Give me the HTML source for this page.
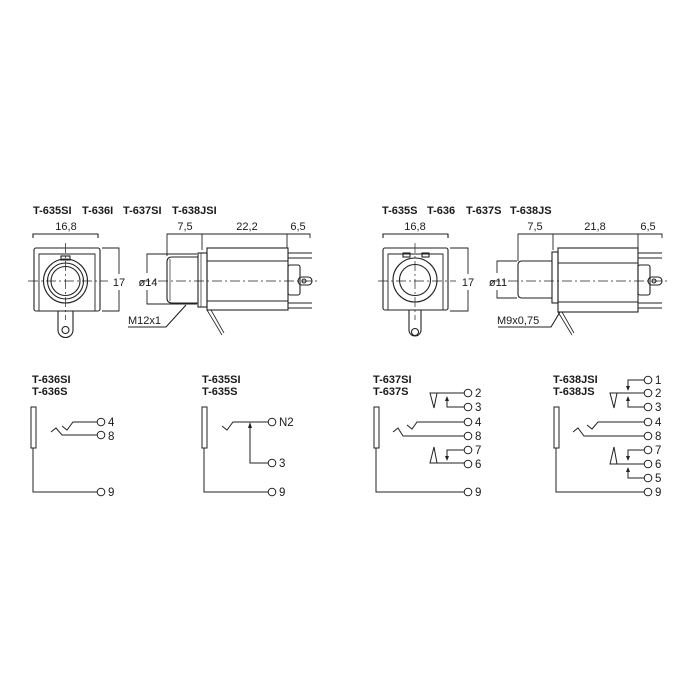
<!DOCTYPE html>
<html><head><meta charset="utf-8"><style>
html,body{margin:0;padding:0;background:#fff}
svg{display:block}
text{font-family:"Liberation Sans",sans-serif;fill:#1a1a1a}
.t{font-weight:bold;font-size:11px}
.d{font-size:11px}
.n{font-size:11.5px}
</style></head><body>
<svg width="700" height="700" viewBox="0 0 700 700" xmlns="http://www.w3.org/2000/svg">
<g fill="none" stroke="#222" stroke-width="1.1">
<path d="M33 238V234H98V238"/>
<rect x="34" y="248" width="66" height="63" rx="2"/>
<path d="M39 311V254H95V311" stroke-width="0.9"/>
<path d="M58 311V330a7 7 0 0 0 15 0V311"/>
<circle cx="65.5" cy="330" r="3.5"/>
<circle cx="65.5" cy="281" r="22"/>
<circle cx="65.5" cy="281" r="18"/>
<circle cx="65.5" cy="281" r="14.5"/>
<rect x="61" y="256" width="9" height="4"/>
<path d="M28 281H108M65.5 243V320" stroke-width="0.7" stroke-dasharray="10 3 2 3"/>
<path d="M102 248H119V274M119 290V311H102" stroke-width="0.9"/>
<path d="M167 238V234H310V238M202 234V250M287 234V248M167 234V256" stroke-width="0.9"/>
<path d="M197 254H147V273M147 290V304H197" stroke-width="0.9"/>
<path d="M198 257H172Q167 257 167 262V298Q167 303 172 303H198"/>
<path d="M170 259V301" stroke-width="0.7"/>
<rect x="198" y="253" width="9" height="54"/>
<path d="M201 253V307" stroke-width="0.7"/>
<rect x="207" y="248" width="81" height="62"/>
<path d="M207 261H288M207 301H288" stroke-width="0.9"/>
<path d="M288 253H312M288 258H312M288 303H312M288 308H312"/>
<rect x="288" y="265" width="12" height="30" rx="2"/>
<rect x="298" y="277" width="14" height="8" rx="4"/>
<circle cx="304" cy="281" r="2"/>
<path d="M140 281H320" stroke-width="0.7" stroke-dasharray="10 3 2 3"/>
<path d="M128 327H166L186 305"/>
<path d="M207 310L222 335M211 310L224 333" stroke-width="0.8"/>
<path d="M383 238V234H448V238"/>
<rect x="383" y="248" width="65" height="62" rx="2"/>
<path d="M388 310V254H443V310" stroke-width="0.9"/>
<rect x="403" y="253" width="7" height="4"/>
<rect x="422" y="253" width="7" height="4"/>
<path d="M409 310V330a6 6 0 0 0 12 0V310"/>
<circle cx="415" cy="332" r="3.5"/>
<circle cx="415" cy="280" r="22"/>
<circle cx="415" cy="280" r="15.5"/>
<path d="M378 281H456M415 243V320" stroke-width="0.7" stroke-dasharray="10 3 2 3"/>
<path d="M450 248H468V274M468 290V311H450" stroke-width="0.9"/>
<path d="M518 238V234H662V238M553 234V250M638 234V248M518 234V261" stroke-width="0.9"/>
<path d="M517 261H497V273M497 290V298H517" stroke-width="0.9"/>
<path d="M552 261H522Q518 261 518 265V294Q518 298 522 298H552"/>
<rect x="552" y="252" width="6" height="51"/>
<rect x="558" y="248" width="80" height="64"/>
<path d="M558 263H638M558 302H638" stroke-width="0.9"/>
<path d="M638 253H662M638 258H662M638 303H662M638 308H662"/>
<rect x="638" y="265" width="12" height="30" rx="2"/>
<rect x="648" y="277" width="14" height="8" rx="4"/>
<circle cx="654" cy="281" r="2"/>
<path d="M490 281H670" stroke-width="0.7" stroke-dasharray="10 3 2 3"/>
<path d="M498 327H551L560 312"/>
<path d="M558 312L572 335M562 312L574 333" stroke-width="0.8"/>

<g stroke-width="1">
<rect x="31" y="407" width="5" height="41"/>
<path d="M33 448V492H97"/><circle cx="101" cy="492" r="3.8"/>
<path d="M62 426L67 430L73 422H97"/><circle cx="101" cy="422" r="3.8"/>
<path d="M51 432L56 428L62 435H97"/><circle cx="101" cy="435" r="3.8"/>
<rect x="202" y="407" width="5" height="41"/>
<path d="M204 448V492H268"/><circle cx="272" cy="492" r="3.8"/>
<path d="M222 426L227 430L233 422H268"/><circle cx="272" cy="422" r="3.8"/>
<path d="M250 426V463H268"/><circle cx="272" cy="463" r="3.8"/>
<rect x="374" y="407" width="5" height="41"/>
<path d="M376 448V492H464"/><circle cx="468" cy="492" r="3.8"/>
<path d="M464 393H430L434 408L437 393"/><circle cx="468" cy="393" r="3.8"/>
<path d="M464 407H447V399"/><circle cx="468" cy="407" r="3.8"/>
<path d="M407 425L412 429L417 422H464"/><circle cx="468" cy="422" r="3.8"/>
<path d="M393 432L398 428L403 436H464"/><circle cx="468" cy="436" r="3.8"/>
<path d="M464 463H430L434 447L437 463"/><circle cx="468" cy="464" r="3.8"/>
<path d="M464 450H447V457"/><circle cx="468" cy="450" r="3.8"/>
<rect x="554" y="407" width="5" height="41"/>
<path d="M556 448V492H644"/><circle cx="648" cy="492" r="3.8"/>
<path d="M644 380H628V387"/><circle cx="648" cy="380" r="3.8"/>
<path d="M644 393H610L614 408L617 393"/><circle cx="648" cy="393" r="3.8"/>
<path d="M644 407H628V399"/><circle cx="648" cy="407" r="3.8"/>
<path d="M587 425L592 429L598 422H644"/><circle cx="648" cy="422" r="3.8"/>
<path d="M573 432L578 428L584 436H644"/><circle cx="648" cy="436" r="3.8"/>
<path d="M644 450H628V457"/><circle cx="648" cy="450" r="3.8"/>
<path d="M644 464H610L614 447L617 464"/><circle cx="648" cy="464" r="3.8"/>
<path d="M644 478H628V470"/><circle cx="648" cy="478" r="3.8"/>
</g>
</g>
<g fill="#222">
<path d="M250 422l-2 6h4z"/>
<path d="M447 396l-2 5h4z"/>
<path d="M447 461l-2 -5h4z"/>
<path d="M628 391l-2 -5h4z"/>
<path d="M628 396l-2 5h4z"/>
<path d="M628 461l-2 -5h4z"/>
<path d="M628 467l-2 5h4z"/>
</g>

<g class="t">
<text x="33" y="214">T-635SI</text><text x="82" y="214">T-636I</text><text x="123" y="214">T-637SI</text><text x="172" y="214">T-638JSI</text>
<text x="382" y="214">T-635S</text><text x="427" y="214">T-636</text><text x="466" y="214">T-637S</text><text x="510" y="214">T-638JS</text>
</g>
<g class="d">
<text x="66" y="230" text-anchor="middle">16,8</text>
<text x="119" y="286" text-anchor="middle">17</text>
<text x="148" y="286" text-anchor="middle">ø14</text>
<text x="185" y="230" text-anchor="middle">7,5</text>
<text x="247" y="230" text-anchor="middle">22,2</text>
<text x="298" y="230" text-anchor="middle">6,5</text>
<text x="128" y="324">M12x1</text>
<text x="415" y="230" text-anchor="middle">16,8</text>
<text x="468" y="286" text-anchor="middle">17</text>
<text x="498" y="286" text-anchor="middle">ø11</text>
<text x="535" y="230" text-anchor="middle">7,5</text>
<text x="595" y="230" text-anchor="middle">21,8</text>
<text x="648" y="230" text-anchor="middle">6,5</text>
<text x="497" y="324">M9x0,75</text>
</g>
<g class="t">
<text x="32" y="383">T-636SI</text><text x="32" y="395">T-636S</text>
<text x="202" y="383">T-635SI</text><text x="202" y="395">T-635S</text>
<text x="373" y="383">T-637SI</text><text x="373" y="395">T-637S</text>
<text x="553" y="383">T-638JSI</text><text x="553" y="395">T-638JS</text>
</g>
<g class="n">
<text x="108" y="426">4</text><text x="108" y="440">8</text><text x="108" y="496">9</text>
<text x="279" y="426">N2</text><text x="279" y="467">3</text><text x="279" y="496">9</text>
<text x="475" y="397">2</text><text x="475" y="411">3</text><text x="475" y="426">4</text><text x="475" y="440">8</text><text x="475" y="454">7</text><text x="475" y="468">6</text><text x="475" y="496">9</text>
<text x="655" y="384">1</text><text x="655" y="397">2</text><text x="655" y="411">3</text><text x="655" y="426">4</text><text x="655" y="440">8</text><text x="655" y="454">7</text><text x="655" y="468">6</text><text x="655" y="482">5</text><text x="655" y="496">9</text>
</g>
</svg>
</body></html>
